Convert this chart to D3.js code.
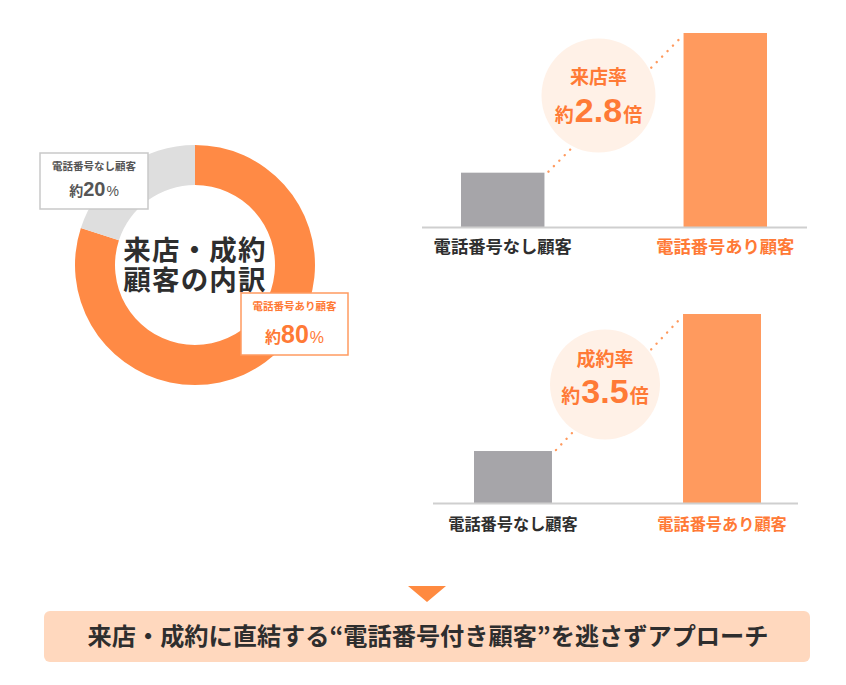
<!DOCTYPE html>
<html><head><meta charset="utf-8">
<script src="https://cdn.jsdelivr.net/npm/d3@7"></script>
<style>
html,body{margin:0;padding:0;background:#fff;}
svg{display:block;font-family:"Noto Sans CJK JP","Noto Sans",sans-serif;}
</style></head>
<body><svg id="c" width="846" height="685"></svg>
<script>
// ---- data ----
const donutCategories = ["電話番号あり顧客", "電話番号なし顧客"];
const donutShares = [80, 20];
const donutLabels = ["約80%", "約20%"];
const barCategories = ["電話番号なし顧客", "電話番号あり顧客"];
const visitValues = [28, 100];      // relative bar heights (来店率)
const contractValues = [27.5, 100]; // relative bar heights (成約率)
const visitTitle = "来店率", visitRatio = "2.8";
const contractTitle = "成約率", contractRatio = "3.5";
const centerTitle = ["来店・成約", "顧客の内訳"];
const footerText = "来店・成約に直結する“電話番号付き顧客”を逃さずアプローチ";

const ORANGE = "#FF8A45", ORANGE_BAR = "#FF9A5E", ORANGE_TXT = "#FF7A36";
const GRAY_D = "#DEDEDE", GRAY_BAR = "#A6A5A9", DARK = "#2e2e2e";
const NUMFONT = "'Liberation Sans',Arial,sans-serif";

const svg = d3.select("#c");

// ---- donut ----
const cx = 195, cy = 265;
const pie = d3.pie().sort(null).startAngle(0).endAngle(2 * Math.PI);
const arc = d3.arc().innerRadius(80).outerRadius(120);
const dg = svg.append("g").attr("transform", `translate(${cx},${cy})`);
dg.selectAll("path").data(pie(donutShares)).join("path")
  .attr("d", arc).attr("fill", (d, i) => i === 0 ? ORANGE : GRAY_D);
const ct = dg.append("text").attr("text-anchor", "middle").attr("font-size", 27.5)
  .attr("font-weight", 700).attr("letter-spacing", 1.2).attr("fill", DARK);
ct.selectAll("tspan").data(centerTitle).join("tspan")
  .attr("x", 0).attr("y", (d, i) => -15 + i * 30 + 0.36 * 27.5).text(d => d);

function labelBox(x, y, w, h, stroke, color, cat, pct, small, big, l1, base2) {
  const g = svg.append("g");
  g.append("rect").attr("x", x).attr("y", y).attr("width", w).attr("height", h)
    .attr("fill", "#fff").attr("stroke", stroke).attr("stroke-width", 1.5);
  g.append("text").attr("x", x + w / 2).attr("y", l1).attr("dy", "0.36em")
    .attr("text-anchor", "middle").attr("font-size", 10.5).attr("font-weight", 700)
    .attr("fill", color).text(cat);
  const t = g.append("text").attr("x", x + w / 2).attr("y", base2)
    .attr("text-anchor", "middle").attr("font-size", big).attr("font-weight", 700).attr("fill", color);
  const m = pct.match(/^(約)(\d+)(%)$/);
  t.append("tspan").attr("font-size", small).text(m[1]);
  t.append("tspan").attr("font-family", NUMFONT).text(m[2]);
  t.append("tspan").attr("font-size", small).attr("font-family", NUMFONT).attr("font-weight", 400).attr("dx", 1).text(m[3]);
}
labelBox(40, 153, 108, 56, "#c9c9c9", "#555", donutCategories[1], donutLabels[1], 14, 20, 166, 195.5);
labelBox(241, 293, 107, 62, "#FF9B60", ORANGE_TXT, donutCategories[0], donutLabels[0], 16, 25, 306, 343);

// ---- bar charts ----
function barChart(opt) {
  const x = d3.scaleBand().domain(barCategories).range(opt.xr).paddingInner(opt.pad).paddingOuter(0);
  const y = d3.scaleLinear().domain([0, 100]).range([opt.base, opt.top]);
  const g = svg.append("g");
  const v = opt.values;
  const x0 = x(barCategories[0]) + x.bandwidth() + 4, y0 = y(v[0]) - 1;
  const x1 = x(barCategories[1]) - 5, y1 = y(v[1]) + 7;
  g.append("line").attr("x1", x0).attr("y1", y0).attr("x2", x1).attr("y2", y1)
    .attr("stroke", ORANGE_BAR).attr("stroke-width", 2.4).attr("stroke-linecap", "round")
    .attr("stroke-dasharray", "0.1 7.6");
  g.append("circle").attr("cx", opt.cc[0]).attr("cy", opt.cc[1]).attr("r", opt.r).attr("fill", "#FFF1E7");
  g.append("text").attr("x", opt.cc[0]).attr("y", opt.titleY).attr("dy", "0.36em")
    .attr("text-anchor", "middle").attr("font-size", 19).attr("font-weight", 700)
    .attr("fill", ORANGE_TXT).text(opt.title);
  const t = g.append("text").attr("x", opt.cc[0]).attr("y", opt.ratioBase)
    .attr("text-anchor", "middle").attr("font-size", 34).attr("font-weight", 700).attr("fill", ORANGE_TXT);
  t.append("tspan").attr("font-size", 19).text("約");
  t.append("tspan").attr("font-family", NUMFONT).attr("dx", 1).text(opt.ratio);
  t.append("tspan").attr("font-size", 19).attr("dx", 1).text("倍");
  g.selectAll("rect.bar").data(v).join("rect").attr("class", "bar")
    .attr("x", (d, i) => x(barCategories[i])).attr("width", x.bandwidth())
    .attr("y", d => y(d)).attr("height", d => y(0) - y(d))
    .attr("fill", (d, i) => i === 0 ? GRAY_BAR : ORANGE_BAR);
  g.append("line").attr("x1", opt.line[0]).attr("x2", opt.line[1])
    .attr("y1", opt.base + 0.5).attr("y2", opt.base + 0.5)
    .attr("stroke", "#cfcfcf").attr("stroke-width", 2);
  const ax = g.append("g").attr("transform", `translate(0,${opt.base})`)
    .call(d3.axisBottom(x).tickSize(0).tickPadding(opt.lp));
  ax.select(".domain").remove();
  ax.selectAll("text").attr("font-size", opt.fs).attr("font-weight", 700)
    .attr("font-family", "'Noto Sans CJK JP',sans-serif")
    .attr("fill", (d, i) => i === 0 ? DARK : ORANGE_TXT);
}
barChart({ xr: [461, 767], pad: 0.625, base: 227, top: 33, values: visitValues,
  cc: [598.5, 95.5], r: 57, titleY: 77.5, ratioBase: 121.5, title: visitTitle, ratio: visitRatio,
  line: [422, 807], lp: 14, fs: 17.3 });
barChart({ xr: [474, 761], pad: 0.627, base: 503, top: 314, values: contractValues,
  cc: [605, 384.5], r: 55, titleY: 359.5, ratioBase: 402.5, title: contractTitle, ratio: contractRatio,
  line: [433, 798], lp: 15, fs: 16.2 });

// ---- footer ----
svg.append("path").attr("d", "M408,586 L446,586 L427,602 Z").attr("fill", "#FF8A40");
svg.append("rect").attr("x", 44).attr("y", 611).attr("width", 766).attr("height", 51)
  .attr("rx", 6).attr("fill", "#FFD8BE");
svg.append("text").attr("x", 428).attr("y", 636.5).attr("dy", "0.36em")
  .attr("text-anchor", "middle").attr("font-size", 24.2).attr("font-weight", 700)
  .attr("fill", DARK).text(footerText);
</script></body></html>
